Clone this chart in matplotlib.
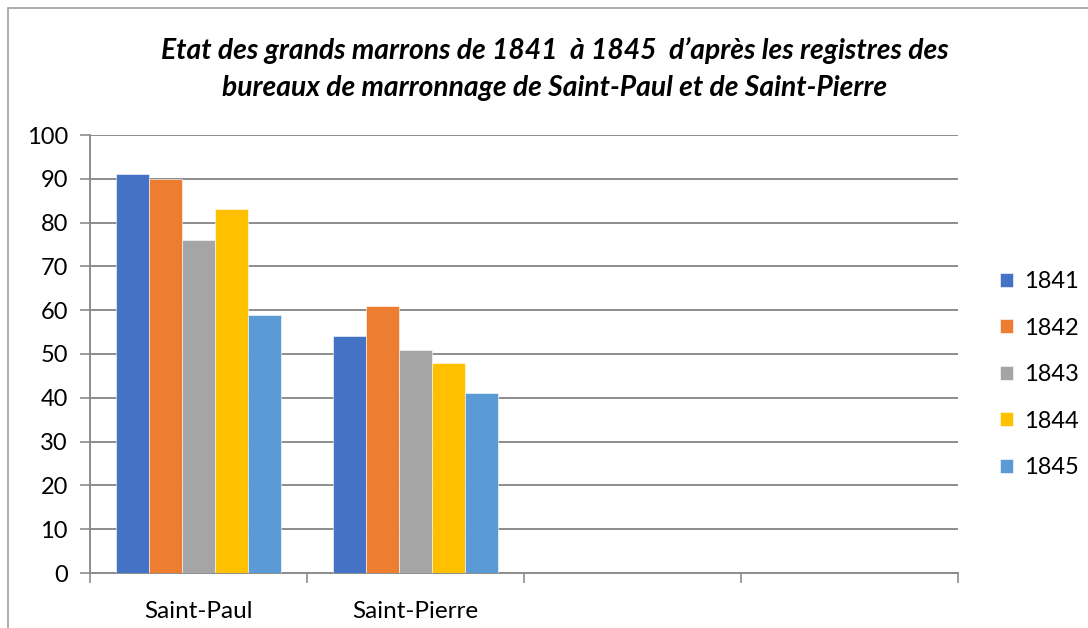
import matplotlib
matplotlib.use("Agg")
import matplotlib.pyplot as plt
from matplotlib.patches import Rectangle
import numpy as np

plt.rcParams['font.family'] = ['Lato', 'DejaVu Sans']

categories = ["Saint-Paul", "Saint-Pierre", "", ""]
years = ["1841", "1842", "1843", "1844", "1845"]
values = {
    "1841": [91, 54],
    "1842": [90, 61],
    "1843": [76, 51],
    "1844": [83, 48],
    "1845": [59, 41],
}
colors = ["#4472C4", "#ED7D31", "#A5A5A5", "#FFC000", "#5B9BD5"]
yticks = [0, 10, 20, 30, 40, 50, 60, 70, 80, 90, 100]
title = ("Etat des grands marrons de 1841  à 1845  d’après les registres des\n"
         "bureaux de marronnage de Saint-Paul et de Saint-Pierre")

W, H = 1088, 628
fig = plt.figure(figsize=(W / 100, H / 100), dpi=100)
ax = fig.add_axes([90 / W, 1 - 573 / H, (958 - 90) / W, (573 - 135) / H])

# outer frame
fig.patches.append(Rectangle((8 / W, -0.1), 1.2, 1 - 8 / H + 0.1, transform=fig.transFigure,
                             fill=False, edgecolor="#A0A0A0", linewidth=1.2))

bw = 33 / 217
n = len(years)
for i, (yr, c) in enumerate(zip(years, colors)):
    vals = values[yr]
    xs = np.arange(len(vals)) + 0.5 + (i - (n - 1) / 2) * bw
    ax.bar(xs, vals, width=bw, color=c, edgecolor="white", linewidth=0.4,
           label=yr, zorder=3)

ax.set_xlim(0, len(categories))
ax.set_ylim(0, 100)
ax.set_yticks(yticks)
ax.set_yticklabels([str(t) for t in yticks])
ax.grid(axis="y", color="#8C8C8C", linewidth=1.4, zorder=0)
ax.set_xticks(np.arange(len(categories) + 1))
ax.set_xticklabels([])
ax.set_xticks(np.arange(len(categories)) + 0.5, minor=True)
ax.set_xticklabels(categories, minor=True)
ax.tick_params(axis="x", which="minor", length=0, pad=20, labelsize=17.5)
ax.tick_params(axis="x", which="major", length=7, color="#8C8C8C", width=1.2)
ax.tick_params(axis="y", length=7, color="#8C8C8C", width=1.2, labelsize=17, pad=9)

for s in ["top", "right"]:
    ax.spines[s].set_visible(False)
for s in ["left", "bottom"]:
    ax.spines[s].set_color("#8C8C8C")
    ax.spines[s].set_linewidth(1.4)

leg = fig.legend(loc="upper left", bbox_to_anchor=(1000 / W, 1 - 271 / H),
                 frameon=False, fontsize=17, handlelength=0.55, handleheight=0.55,
                 labelspacing=1.08, handletextpad=0.45, borderpad=0, borderaxespad=0)

fig.text(555 / W, 1 - 69 / H, title, ha="center", va="center", fontsize=20.3,
         fontweight="bold", style="italic", linespacing=1.5)

fig.savefig("out.png", dpi=100)
